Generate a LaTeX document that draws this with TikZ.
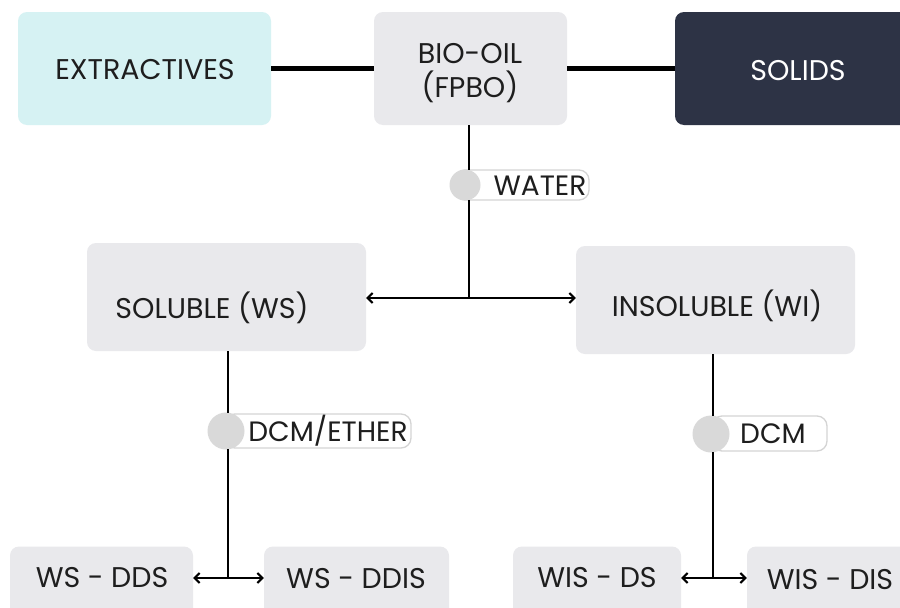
\documentclass[tikz,border=0pt]{standalone}
\usepackage{fontspec}
\setmainfont{Poppins}
\usetikzlibrary{arrows.meta,calc}
\definecolor{boxgray}{HTML}{E9E9EC}
\definecolor{extcol}{HTML}{D6F2F3}
\definecolor{solcol}{HTML}{2D3345}
\definecolor{dotgray}{HTML}{D9D9D9}
\definecolor{pillline}{HTML}{D4D4D4}
\definecolor{txt}{HTML}{1E1E1E}
\tikzset{
  boxbase/.style={rounded corners=9pt, draw=none, inner sep=0pt},
  graybox/.style={boxbase, fill=boxgray},
  lbl/.style={font=\fontsize{28.5}{34}\selectfont, text=txt, inner sep=0pt, align=center},
  smlbl/.style={font=\fontsize{28}{32}\selectfont, text=txt, inner sep=0pt},
  pill/.style={rounded corners=10pt, draw=pillline, line width=1.3pt, fill=white},
  dot/.style={circle, fill=dotgray, draw=none, inner sep=0pt},
  thin/.style={line width=2pt, draw=black},
  thick/.style={line width=4.5pt, draw=black},
  biarrow/.style={line width=2pt, {Straight Barb[length=5pt,width=10pt]}-{Straight Barb[length=5pt,width=10pt]}}
}
\begin{document}
\begin{tikzpicture}[x=1pt,y=-1pt]
\useasboundingbox (0,0) rectangle (900,608);
\clip (0,0) rectangle (900,608);
\fill[white] (0,0) rectangle (900,608);
% top row
\node[boxbase, fill=extcol, minimum width=253pt, minimum height=113pt] (ext) at (144.5,68.5) {};
\node[lbl] (extt) at (145,70) {EXTRACTIVES};
\node[graybox, minimum width=193pt, minimum height=113pt] (bio) at (470.5,68.5) {};
\node[lbl] (biot) at (470,73) {BIO-OIL\\(FPBO)};
\node[boxbase, fill=solcol, minimum width=250pt, minimum height=113pt] (sol) at (800,68.5) {};
\node[lbl, text=white] (solt) at (798,71) {SOLIDS};
\draw[thick] (ext.east) -- (bio.west);
\draw[thick] (bio.east) -- (sol.west);
% middle row
\node[graybox, minimum width=279pt, minimum height=108pt] (ws) at (226.5,297) {};
\node[lbl] (wst) at (212,308) {SOLUBLE (WS)};
\node[graybox, minimum width=279pt, minimum height=108pt] (wi) at (715.5,300) {};
\node[lbl] (wit) at (717,306) {INSOLUBLE (WI)};
% water pill
\node[pill, minimum width=134pt, minimum height=30pt] (waterp) at (522,185) {};
\node[dot, minimum size=31pt] (waterd) at (465,185) {};
\node[smlbl] (watert) at (540,186) {WATER};
\coordinate (j1) at (469,298);
\draw[thin] (469,125) -- (469,170);
\draw[thin] (469,200) -- (j1);
\draw[biarrow] (ws.east |- j1) -- (wi.west |- j1);
% bottom row
\node[graybox, minimum width=183pt, minimum height=75pt] (dds) at (101.5,584) {};
\node[lbl] (ddst) at (102,578) {WS - DDS};
\node[graybox, minimum width=185pt, minimum height=75pt] (ddis) at (356.5,584) {};
\node[lbl] (ddist) at (356,579) {WS - DDIS};
\node[graybox, minimum width=168pt, minimum height=75pt] (wds) at (597,584) {};
\node[lbl] (wdst) at (597,578) {WIS - DS};
\node[graybox, minimum width=170pt, minimum height=75pt] (wdis) at (832,584) {};
\node[lbl] (wdist) at (830,580) {WIS - DIS};
% left branch
\node[pill, minimum width=186pt, minimum height=34pt] (dcmep) at (318,431) {};
\node[dot, minimum size=37pt] (dcmed) at (226,431) {};
\node[smlbl] (dcmet) at (328,431) {DCM/ETHER};
\coordinate (j2) at (228,578);
\draw[thin] (228,351) -- (228,413);
\draw[thin] (228,449) -- (j2);
\draw[biarrow] (dds.east |- j2) -- (ddis.west |- j2);
% right branch
\node[pill, minimum width=115pt, minimum height=35pt] (dcmp) at (769.5,433.5) {};
\node[dot, minimum size=37pt] (dcmd) at (711,434) {};
\node[smlbl] (dcmt) at (773,434) {DCM};
\coordinate (j3) at (713,578);
\draw[thin] (713,354) -- (713,416);
\draw[thin] (713,452) -- (j3);
\draw[biarrow] (wds.east |- j3) -- (wdis.west |- j3);
\end{tikzpicture}
\end{document}
